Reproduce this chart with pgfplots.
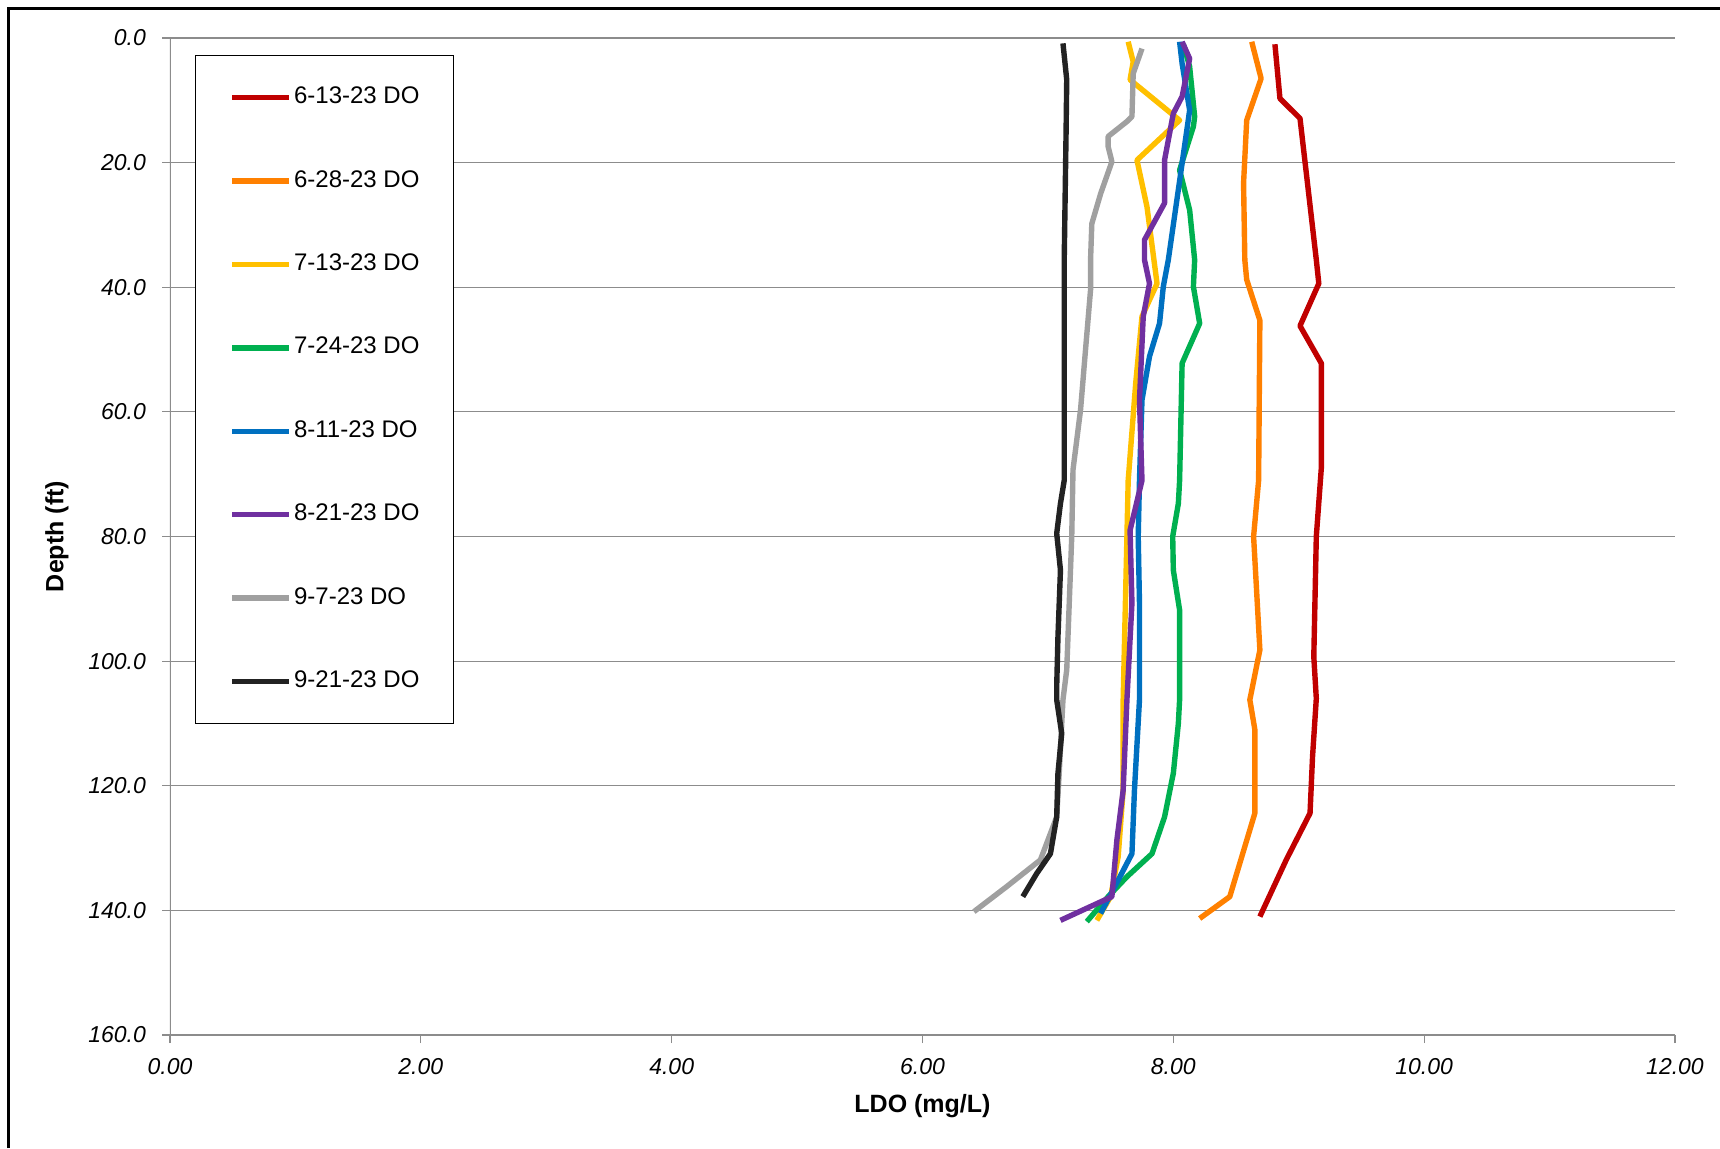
\documentclass[border=0pt]{standalone}
\usepackage{pgfplots}
\pgfplotsset{compat=1.18}
\usepackage{fontspec}
\setmainfont{Liberation Sans}
\definecolor{cRed}{HTML}{C00000}
\definecolor{cOrange}{HTML}{FF8000}
\definecolor{cYellow}{HTML}{FFC000}
\definecolor{cGreen}{HTML}{00B050}
\definecolor{cBlue}{HTML}{0070C0}
\definecolor{cPurple}{HTML}{7030A0}
\definecolor{cGray}{HTML}{A0A0A0}
\definecolor{cBlack}{HTML}{222222}
\definecolor{cGrid}{HTML}{8C8C8C}
\begin{document}
\begin{tikzpicture}
\path[use as bounding box] (0pt,0pt) rectangle (860pt,574pt);
\draw[line width=1.5pt] (4pt,0pt) -- (4pt,569.5pt) -- (860pt,569.5pt);
\begin{axis}[
  at={(85pt,56.5pt)}, anchor=south west,
  scale only axis, width=752.5pt, height=498.5pt,
  xmin=0, xmax=12, ymin=0, ymax=160,
  y dir=reverse,
  xtick={0,2,...,12}, ytick={0,20,...,160},
  xtick pos=left, ytick pos=left,
  tick align=outside, major tick length=4pt,
  tick style={cGrid, line width=0.6pt},
  axis line style={draw=none},
  ymajorgrids, major grid style={cGrid, line width=0.6pt},
  /pgf/number format/assume math mode=true,
  ticklabel style={font=\fontsize{11.5}{13}\selectfont\itshape},
  xticklabel style={yshift=-4pt, /pgf/number format/.cd, fixed, fixed zerofill, precision=2},
  yticklabel style={xshift=-4.5pt, /pgf/number format/.cd, fixed, fixed zerofill, precision=1},
  xlabel={LDO (mg/L)}, ylabel={Depth (ft)},
  every axis x label/.style={at={([yshift=-35.5pt]axis description cs:0.5,0)}, anchor=center, font=\fontsize{12.5}{14}\selectfont\bfseries},
  every axis y label/.style={at={([xshift=-56.5pt]axis description cs:0,0.5)}, rotate=90, anchor=center, font=\fontsize{12.5}{14}\selectfont\bfseries},
  legend style={at={(0.0166,0.983)}, anchor=north west, draw=black, line width=0.7pt, fill=white,
    inner xsep=17pt, inner ysep=15.5pt, row sep=30.7pt, column sep=1pt,
    font=\fontsize{12}{14}\selectfont, cells={anchor=west},
    nodes={inner sep=0pt, text height=8.5pt, text depth=2.5pt}},
  legend image code/.code={\draw[line width=2.7pt] (0pt,0pt) -- (28.5pt,0pt);},
  every axis plot/.append style={line width=2.7pt, line join=round, no markers},
]
\addplot[cRed] coordinates {(8.81,1) (8.85,9.7) (9.01,12.9) (9.14,35.6) (9.16,39.4) (9.01,46.2) (9.18,52.2) (9.18,69) (9.14,80) (9.12,99.3) (9.14,106) (9.11,115.3) (9.09,124.4) (8.90,131.9) (8.69,141)};
\addlegendentry{6-13-23 DO}
\addplot[cOrange] coordinates {(8.625,0.6) (8.70,6.5) (8.585,13.2) (8.56,23.3) (8.57,35.6) (8.585,38.8) (8.69,45.3) (8.68,71) (8.64,80) (8.69,98.2) (8.61,106.2) (8.65,111) (8.65,124.4) (8.45,137.8) (8.21,141.3)};
\addlegendentry{6-28-23 DO}
\addplot[cYellow] coordinates {(7.64,0.6) (7.68,3.8) (7.655,6.7) (8.05,13.2) (7.71,19.6) (7.79,27.1) (7.87,39.4) (7.75,44.7) (7.70,55.4) (7.64,71) (7.63,80) (7.60,106.2) (7.60,120.7) (7.56,131.4) (7.50,137.8) (7.39,141.6)};
\addlegendentry{7-13-23 DO}
\addplot[cGreen] coordinates {(8.08,1) (8.13,4.6) (8.17,12.6) (8.16,14.2) (8.05,21.2) (8.13,27.6) (8.17,35.6) (8.16,39.9) (8.21,45.8) (8.07,52.2) (8.05,71) (8.04,74.7) (7.995,80) (8.0,85.4) (8.05,91.8) (8.05,106.2) (8.04,110) (8.0,118) (7.93,125) (7.83,130.9) (7.63,134.6) (7.48,137.8) (7.31,141.8)};
\addlegendentry{7-24-23 DO}
\addplot[cBlue] coordinates {(8.05,0.6) (8.07,4.1) (8.13,11.6) (8.07,20.1) (7.96,35.6) (7.92,39.9) (7.89,45.8) (7.81,51.1) (7.75,58.1) (7.73,71) (7.72,80) (7.73,90.7) (7.73,106.2) (7.69,120.7) (7.67,130.9) (7.52,136.7) (7.42,140.5)};
\addlegendentry{8-11-23 DO}
\addplot[cPurple] coordinates {(8.07,0.6) (8.13,3.3) (8.07,9.4) (8.0,12.1) (7.93,19.6) (7.93,26.5) (7.77,32.4) (7.77,35.6) (7.81,39.4) (7.76,44.7) (7.73,58.1) (7.75,71) (7.655,79) (7.67,90.7) (7.63,106.2) (7.60,120.7) (7.55,128.7) (7.51,137.8) (7.10,141.6)};
\addlegendentry{8-21-23 DO}
\addplot[cGray] coordinates {(7.75,1.7) (7.68,5.7) (7.67,12.6) (7.63,13.4) (7.48,15.8) (7.48,17.4) (7.51,19.85) (7.42,25) (7.35,29.8) (7.34,35.6) (7.34,40.4) (7.30,50) (7.26,59.7) (7.20,69.3) (7.19,80) (7.15,101.4) (7.12,106.2) (7.09,118) (7.07,125) (6.94,131.9) (6.67,136.2) (6.41,140.2)};
\addlegendentry{9-7-23 DO}
\addplot[cBlack] coordinates {(7.12,0.86) (7.15,6.7) (7.145,14.8) (7.13,35.6) (7.13,71) (7.10,74.7) (7.07,79.5) (7.10,85.4) (7.08,96.1) (7.07,104.1) (7.07,106.2) (7.11,111.6) (7.08,118) (7.07,125) (7.02,130.9) (6.91,134.1) (6.80,137.8)};
\addlegendentry{9-21-23 DO}
\draw[cGrid, line width=0.6pt] (axis description cs:0,0) -- (axis description cs:0,1);
\end{axis}
\end{tikzpicture}
\end{document}
